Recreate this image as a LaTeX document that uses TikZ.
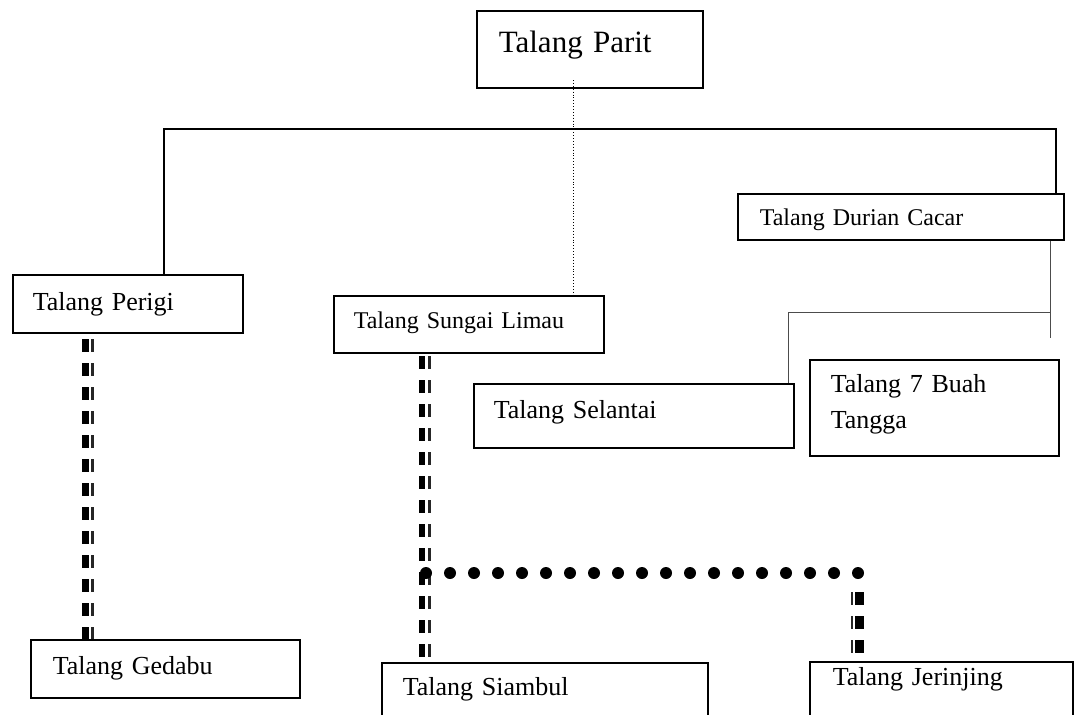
\documentclass[tikz,border=0pt]{standalone}
\usepackage{fontspec}
\setmainfont{Liberation Serif}
\begin{document}
\begin{tikzpicture}[x=1pt,y=-1pt,
  box/.style={draw, line width=1.6pt, anchor=north west, inner sep=0pt, align=left,
    font=\fontsize{26}{36}\selectfont},
  tree/.style={line width=1.3pt},
  thinline/.style={line width=0.9pt, draw=black!70},
  linkdot/.style={dotted, line width=0.9pt},
  bardash/.style={line width=#1, dash pattern=on 13pt off 11pt},
  dotrow/.style={line width=12pt, line cap=round, dash pattern=on 0pt off 24pt}]
\clip (0,0) rectangle (1077,715);
\fill[white] (0,0) rectangle (1077,715);

% boxes
\node[box, font=\fontsize{31}{36}\selectfont, text width=226pt, text height=42pt, text depth=35pt] (parit) at (476,10) {\hspace*{22pt}Talang Parit};
\node[box, text width=230pt, text height=36pt, text depth=22pt] (perigi) at (12,274) {\hspace*{20pt}Talang Perigi};
\node[box, font=\fontsize{24}{30}\selectfont, text width=270pt, text height=33pt, text depth=24pt] (sungai) at (333,295) {\hspace*{20pt}Talang Sungai Limau};
\node[box, font=\fontsize{24}{30}\selectfont, text width=326pt, text height=32pt, text depth=14pt] (durian) at (737,193) {\hspace*{22pt}Talang Durian Cacar};
\node[box, text width=320pt, text height=35pt, text depth=29pt] (selantai) at (473,383) {\hspace*{20pt}Talang Selantai};
\node[box, text width=249pt, text height=33pt, text depth=63pt] (buah) at (809,359) {\hspace*{21pt}Talang 7 Buah\\\hspace*{21pt}Tangga};
\node[box, text width=269pt, text height=35pt, text depth=23pt] (gedabu) at (30,639) {\hspace*{22pt}Talang Gedabu};
\node[box, text width=326pt, text height=33pt, text depth=40pt] (siambul) at (381,662) {\hspace*{21pt}Talang Siambul};
\node[box, text width=263pt, text height=24pt, text depth=46pt] (jerinjing) at (809,661) {\hspace*{23pt}Talang Jerinjing};

% main tree line
\coordinate (hl) at (164,129);
\coordinate (hr) at (1056,129);
\draw[tree] (hl |- perigi.north) -- (hl) -- (hr) -- (hr |- durian.north);

% dotted link Parit -> Sungai Limau
\coordinate (pd) at (573,80);
\draw[linkdot] (pd) -- (pd |- sungai.north);

% thin lines from Durian Cacar
\coordinate (dr) at (1050,338);
\coordinate (sc) at (788,312);
\coordinate (sr) at (1050,312);
\draw[thinline] (dr |- durian.south) -- (dr);
\draw[thinline] (sc |- selantai.north) -- (sc) -- (sr);

% thick dashed: Perigi -> Gedabu
\coordinate (pa) at (85.5,339);
\coordinate (pb) at (92.5,339);
\draw[bardash=7pt] (pa) -- (pa |- gedabu.north);
\draw[bardash=3pt, draw=black!85] (pb) -- (pb |- gedabu.north);

% thick dashed: Sungai Limau -> Siambul
\coordinate (sa) at (422,356);
\coordinate (sb) at (429.5,356);
\draw[bardash=6.5pt] (sa) -- (sa |- siambul.north);
\draw[bardash=3pt, draw=black!85] (sb) -- (sb |- siambul.north);

% dot row
\coordinate (da) at (426,573);
\coordinate (db) at (858.5,573);
\draw[dotrow] (da) -- (db);

% thick dashed: -> Jerinjing
\coordinate (ja) at (852,592);
\coordinate (jb) at (859.5,592);
\draw[bardash=2.5pt, draw=black!85] (ja) -- (ja |- jerinjing.north);
\draw[bardash=8.5pt] (jb) -- (jb |- jerinjing.north);
\end{tikzpicture}
\end{document}
